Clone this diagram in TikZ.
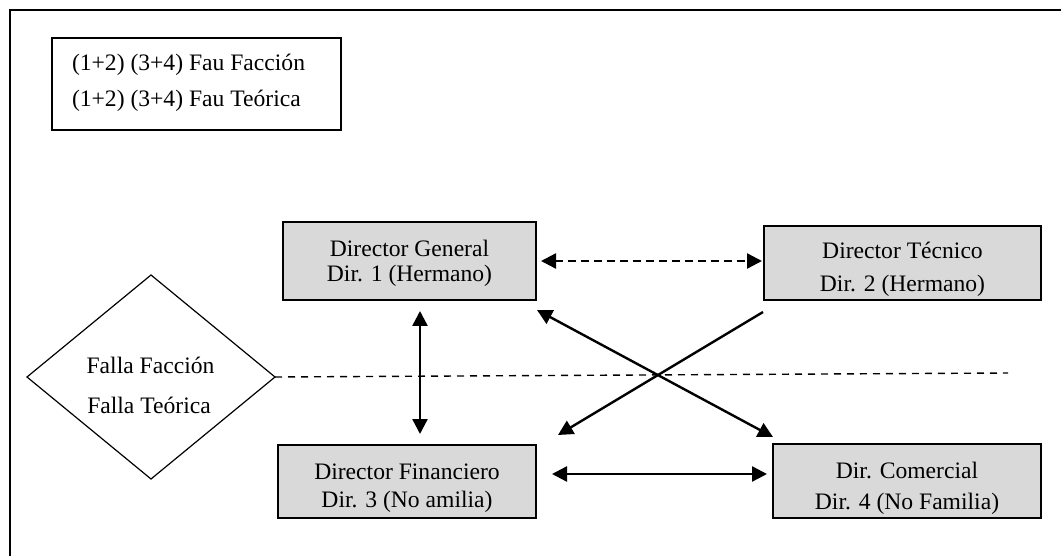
\documentclass[tikz,border=0pt]{standalone}
\usepackage{fontspec}
\setmainfont{Liberation Serif}
\usetikzlibrary{arrows.meta,shapes.geometric,calc}
\definecolor{boxfill}{RGB}{217,217,217}
\begin{document}
\begin{tikzpicture}[x=1pt,y=-1pt,
  every node/.style={font=\fontsize{23.6}{28}\selectfont, inner sep=0pt, outer sep=0pt},
  frame/.style={draw, line width=2.4pt},
  legendbox/.style={draw, line width=1.3pt},
  dirbox/.style={draw, line width=2.3pt, fill=boxfill},
  fallabox/.style={draw, diamond, line width=1.2pt},
  txt/.style={anchor=base},
  dbl/.style={{Triangle[length=15pt,width=15pt]}-{Triangle[length=15pt,width=15pt]}, line width=2.4pt},
  single/.style={-{Triangle[length=15pt,width=15pt]}, line width=2.4pt},
  dasharrow/.style={dbl, dash pattern=on 8pt off 5pt},
  divider/.style={line width=1.4pt, dash pattern=on 7pt off 6pt}]
\useasboundingbox (0,0) rectangle (1061,556);
\clip (0,0) rectangle (1061,556);

% outer frame (runs past the page on the right and bottom)
\draw[frame] (10,10) rectangle (1090,590);

% legend
\node[legendbox, minimum width=289pt, minimum height=92pt] (legend) at (196.5,84) {};
\node[anchor=base west] (leg1) at (72,71) {(1+2) (3+4) Fau Facción};
\node[anchor=base west] (leg2) at (72,107) {(1+2) (3+4) Fau Teórica};

% failure diamond
\node[fallabox, minimum width=248pt, minimum height=204pt] (falla) at (151,377) {};
\node[txt] (falla1) at (150.5,373) {Falla Facción};
\node[txt] (falla2) at (149,413) {Falla Teórica};

% directors
\node[dirbox, minimum width=253pt, minimum height=78pt] (dg) at (409.5,261) {};
\node[txt] (dg1) at (409.5,257) {Director General};
\node[txt] (dg2) at (409.5,282) {Dir. 1 (Hermano)};

\node[dirbox, minimum width=277pt, minimum height=74pt] (dt) at (902.5,263) {};
\node[txt] (dt1) at (902.5,259) {Director Técnico};
\node[txt] (dt2) at (902.5,291) {Dir. 2 (Hermano)};

\node[dirbox, minimum width=258pt, minimum height=73pt] (df) at (407,481.5) {};
\node[txt] (df1) at (407,479) {Director Financiero};
\node[txt] (df2) at (407,507) {Dir. 3 (No amilia)};

\node[dirbox, minimum width=268pt, minimum height=74pt] (com) at (907,481) {};
\node[txt] (com1) at (907,478) {Dir. Comercial};
\node[txt] (com2) at (907,509) {Dir. 4 (No Familia)};

% connectors
\coordinate (vx) at (420,0);
\coordinate (hy) at (0,474);
\coordinate (dashend) at (1008,373);

\draw[divider] (falla.east) -- (dashend);
\draw[dasharrow, shorten <=5pt, shorten >=2pt] (dg.east) -- (dg.east -| dt.west);
\draw[dbl, shorten <=11pt, shorten >=11pt] (dg.south -| vx) -- (df.north -| vx);
\draw[dbl, shorten <=16pt, shorten >=6pt] (df.east |- hy) -- (com.west |- hy);
\draw[dbl] ($(dg.south east)+(1,10)$) -- ($(com.north west)+(0,-7)$);
\draw[single] ($(dt.south west)+(-1,12)$) -- ($(df.north east)+(22,-10)$);
\end{tikzpicture}
\end{document}
